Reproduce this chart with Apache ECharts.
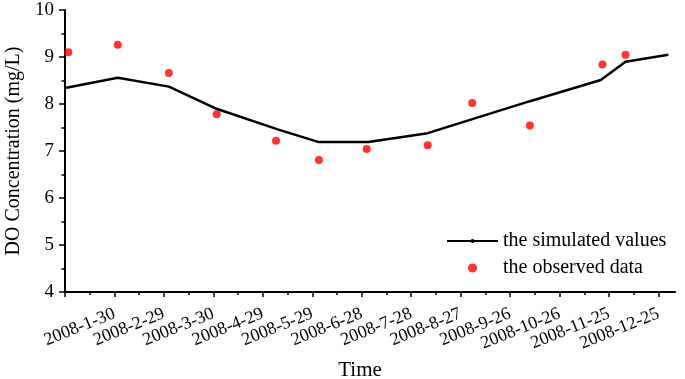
<!DOCTYPE html>
<html>
<head>
<meta charset="utf-8">
<script src="https://cdn.jsdelivr.net/npm/echarts@6/dist/echarts.min.js"></script>
<style>html,body{margin:0;padding:0;background:#fff}#c{width:685px;height:379px}</style>
</head>
<body>
<div id="c"></div>
<script>
// x values: days since 2007-12-31
var tickLabels = ['', '2008-1-30', '2008-2-29', '2008-3-30', '2008-4-29', '2008-5-29', '2008-6-28',
  '2008-7-28', '2008-8-27', '2008-9-26', '2008-10-26', '2008-11-25', '2008-12-25'];
var simDays = [0, 32, 63, 91, 129, 154, 184, 220, 282, 325, 340, 366];
var simValues = [8.34, 8.56, 8.37, 7.91, 7.46, 7.19, 7.19, 7.38, 8.06, 8.51, 8.90, 9.05];
var obsDays = [2, 32, 63, 92, 128, 154, 183, 220, 247, 282, 326, 340];
var obsValues = [9.10, 9.26, 8.66, 7.78, 7.22, 6.81, 7.04, 7.12, 8.02, 7.54, 8.84, 9.05];
var yTicks = [4, 5, 6, 7, 8, 9, 10];

var FONT = 'Liberation Serif';
var tickValues = tickLabels.map(function (_, i) { return i * 30; });

var chart = echarts.init(document.getElementById('c'), null, {renderer: 'canvas'});
chart.setOption({
  animation: false,
  backgroundColor: '#fff',
  grid: {left: 65, right: 10, top: 10, bottom: 87, containLabel: false, outerBoundsMode: 'none'},
  legend: [{
    data: ['the simulated values'], orient: 'vertical', left: 446, top: 231, padding: 0,
    itemWidth: 51, itemHeight: 5, itemGap: 5,
    textStyle: {fontFamily: FONT, fontSize: 20, color: '#000'}
  }, {
    data: ['the observed data'], orient: 'vertical', left: 468, top: 258, padding: 0,
    itemWidth: 51, itemHeight: 9, itemGap: 5,
    textStyle: {fontFamily: FONT, fontSize: 20, color: '#000'}
  }],
  xAxis: {
    type: 'value', min: 0, max: 370, interval: 30,
    name: 'Time', nameLocation: 'middle', nameGap: 68,
    nameTextStyle: {fontFamily: FONT, fontSize: 21, color: '#000', padding: [0, 20, 0, 0]},
    axisLine: {show: true, lineStyle: {color: '#000', width: 2}},
    axisTick: {show: true, length: 5, lineStyle: {color: '#000', width: 1.5}, customValues: tickValues},
    minorTick: {show: true, splitNumber: 2, length: 3, lineStyle: {color: '#000', width: 1.5}},
    splitLine: {show: false},
    axisLabel: {
      rotate: 22, margin: 21, fontFamily: FONT, fontSize: 18, color: '#000',
      customValues: tickValues,
      formatter: function (v) { var i = Math.round(v / 30); return tickLabels[i] || ''; }
    }
  },
  yAxis: {
    type: 'value', min: yTicks[0], max: yTicks[yTicks.length - 1], interval: 1,
    name: 'DO Concentration (mg/L)', nameLocation: 'middle', nameGap: 39,
    nameTextStyle: {fontFamily: FONT, fontSize: 20, color: '#000'},
    axisLine: {show: true, lineStyle: {color: '#000', width: 2}},
    axisTick: {show: true, length: 6, lineStyle: {color: '#000', width: 1.5}},
    minorTick: {show: true, splitNumber: 2, length: 3.5, lineStyle: {color: '#000', width: 1.5}},
    splitLine: {show: false},
    axisLabel: {margin: 11, fontFamily: FONT, fontSize: 19, color: '#000'}
  },
  series: [{
    name: 'the simulated values', type: 'line',
    data: simDays.map(function (d, i) { return [d, simValues[i]]; }),
    symbol: 'circle', symbolSize: 4, showSymbol: false,
    lineStyle: {color: '#000', width: 2.5},
    itemStyle: {color: '#000'}
  }, {
    name: 'the observed data', type: 'scatter',
    data: obsDays.map(function (d, i) { return [d, obsValues[i]]; }),
    symbol: 'circle', symbolSize: 8,
    itemStyle: {color: '#ff0000'}
  }]
});
</script>
</body>
</html>
